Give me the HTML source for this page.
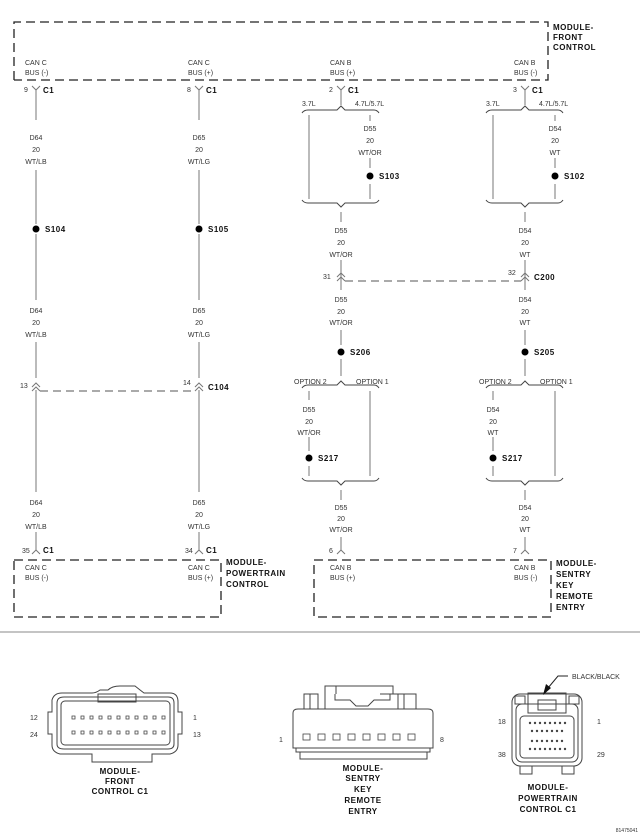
<!DOCTYPE html>
<html><head><meta charset="utf-8"><style>
html,body{margin:0;padding:0;background:#fff}
svg{display:block}
text{font-family:"Liberation Sans",sans-serif}
.t{font-size:7px;fill:#333;text-anchor:middle}
.l{font-size:7px;fill:#333}
.b{font-size:8px;font-weight:bold;fill:#111;letter-spacing:0.5px}
.w{stroke:#777;stroke-width:1;fill:none}
.d{stroke:#222;stroke-width:1.3;fill:none;stroke-dasharray:9,5}
.k{stroke:#444;stroke-width:1;fill:none}
</style></head><body>
<svg width="640" height="838" viewBox="0 0 640 838" xmlns="http://www.w3.org/2000/svg">
<!-- top box -->
<path class="d" d="M14,80 V22 H548 V80 H14"/>
<text class="b" x="553" y="30">MODULE-</text>
<text class="b" x="553" y="40">FRONT</text>
<text class="b" x="553" y="50">CONTROL</text>
<text class="l" x="25" y="65">CAN C</text><text class="l" x="25" y="75">BUS (-)</text>
<text class="l" x="188" y="65">CAN C</text><text class="l" x="188" y="75">BUS (+)</text>
<text class="l" x="330" y="65">CAN B</text><text class="l" x="330" y="75">BUS (+)</text>
<text class="l" x="514" y="65">CAN B</text><text class="l" x="514" y="75">BUS (-)</text>

<!-- column 1 x=36 -->
<path class="w" d="M32,86 L36,90 L40,86 M36,90 V120 M36,170 V224 M36,234 V300 M36,342 V378 M36,390 V492 M36,532 V550"/>
<text class="l" x="24" y="92">9</text><text class="b" x="43" y="93">C1</text>
<text class="t" x="36" y="140">D64</text><text class="t" x="36" y="152">20</text><text class="t" x="36" y="164">WT/LB</text>
<circle cx="36" cy="229" r="3.5" fill="#000"/><text class="b" x="45" y="232">S104</text>
<text class="t" x="36" y="313">D64</text><text class="t" x="36" y="325">20</text><text class="t" x="36" y="337">WT/LB</text>
<path class="w" d="M32,387 L36,383 L40,387 M32,391 L36,387 L40,391"/>
<text class="l" x="20" y="388">13</text>
<text class="t" x="36" y="505">D64</text><text class="t" x="36" y="517">20</text><text class="t" x="36" y="529">WT/LB</text>
<path class="w" d="M32,554 L36,550 L40,554"/>
<text class="l" x="22" y="553">35</text><text class="b" x="43" y="553">C1</text>

<!-- column 2 x=199 -->
<path class="w" d="M195,86 L199,90 L203,86 M199,90 V120 M199,170 V224 M199,234 V300 M199,342 V378 M199,390 V492 M199,532 V550"/>
<text class="l" x="187" y="92">8</text><text class="b" x="206" y="93">C1</text>
<text class="t" x="199" y="140">D65</text><text class="t" x="199" y="152">20</text><text class="t" x="199" y="164">WT/LG</text>
<circle cx="199" cy="229" r="3.5" fill="#000"/><text class="b" x="208" y="232">S105</text>
<text class="t" x="199" y="313">D65</text><text class="t" x="199" y="325">20</text><text class="t" x="199" y="337">WT/LG</text>
<path class="w" d="M195,387 L199,383 L203,387 M195,391 L199,387 L203,391"/>
<text class="l" x="183" y="385">14</text><text class="b" x="208" y="390">C104</text>
<text class="t" x="199" y="505">D65</text><text class="t" x="199" y="517">20</text><text class="t" x="199" y="529">WT/LG</text>
<path class="w" d="M195,554 L199,550 L203,554"/>
<text class="l" x="185" y="553">34</text><text class="b" x="206" y="553">C1</text>
<path class="d" style="stroke-width:1;stroke:#555;stroke-dasharray:8,5" d="M40,391 H195"/>

<!-- bottom-left box -->
<path class="d" d="M14,560 H221 V617 H14 Z"/>
<text class="l" x="25" y="570">CAN C</text><text class="l" x="25" y="580">BUS (-)</text>
<text class="l" x="188" y="570">CAN C</text><text class="l" x="188" y="580">BUS (+)</text>
<text class="b" x="226" y="565">MODULE-</text>
<text class="b" x="226" y="576">POWERTRAIN</text>
<text class="b" x="226" y="587">CONTROL</text>

<!-- column 3 x=341 -->
<g>
<path class="w" d="M337,86 L341,90 L345,86 M341,90 V105"/>
<text class="l" x="329" y="92">2</text><text class="b" x="348" y="93">C1</text>
<path class="k" d="M302,113 Q304,110 308,110 H337 L341,106 L345,110 H374 Q377,110 379,113"/>
<text class="l" x="302" y="106">3.7L</text><text class="l" x="355" y="106">4.7L/5.7L</text>
<path class="w" d="M309,115 V199 M370,115 V121 M370,158 V168 M370,184 V199"/>
<text class="t" x="370" y="131">D55</text><text class="t" x="370" y="143">20</text><text class="t" x="370" y="155">WT/OR</text>
<circle cx="370" cy="176" r="3.5" fill="#000"/><text class="b" x="379" y="179">S103</text>
<path class="k" d="M302,200 Q304,203 308,203 H337 L341,207 L345,203 H374 Q377,203 379,200"/>
<path class="w" d="M341,212 V222 M341,260 V290 M341,330 V345 M341,359 V376"/>
<text class="t" x="341" y="233">D55</text><text class="t" x="341" y="245">20</text><text class="t" x="341" y="257">WT/OR</text>
<path class="w" d="M337,277 L341,273 L345,277 M337,281 L341,277 L345,281"/>
<text class="l" x="323" y="279">31</text>
<text class="t" x="341" y="302">D55</text><text class="t" x="341" y="314">20</text><text class="t" x="341" y="325">WT/OR</text>
<circle cx="341" cy="352" r="3.5" fill="#000"/><text class="b" x="350" y="355">S206</text>
<path class="k" d="M302,388 Q304,385 308,385 H337 L341,381 L345,385 H374 Q377,385 379,388"/>
<text class="l" x="294" y="384">OPTION 2</text><text class="l" x="356" y="384">OPTION 1</text>
<path class="w" d="M309,391 V400 M309,437 V451 M309,466 V476 M370,391 V476"/>
<text class="t" x="309" y="412">D55</text><text class="t" x="309" y="424">20</text><text class="t" x="309" y="435">WT/OR</text>
<circle cx="309" cy="458" r="3.5" fill="#000"/><text class="b" x="318" y="461">S217</text>
<path class="k" d="M302,478 Q304,481 308,481 H337 L341,485 L345,481 H374 Q377,481 379,478"/>
<path class="w" d="M341,490 V500 M341,537 V550"/>
<text class="t" x="341" y="510">D55</text><text class="t" x="341" y="521">20</text><text class="t" x="341" y="532">WT/OR</text>
<path class="w" d="M337,554 L341,550 L345,554"/>
<text class="l" x="329" y="553">6</text>
</g>

<!-- column 4 x=525 -->
<g>
<path class="w" d="M521,86 L525,90 L529,86 M525,90 V105"/>
<text class="l" x="513" y="92">3</text><text class="b" x="532" y="93">C1</text>
<path class="k" d="M486,113 Q488,110 492,110 H521 L525,106 L529,110 H558 Q561,110 563,113"/>
<text class="l" x="486" y="106">3.7L</text><text class="l" x="539" y="106">4.7L/5.7L</text>
<path class="w" d="M493,115 V199 M555,115 V121 M555,158 V168 M555,184 V199"/>
<text class="t" x="555" y="131">D54</text><text class="t" x="555" y="143">20</text><text class="t" x="555" y="155">WT</text>
<circle cx="555" cy="176" r="3.5" fill="#000"/><text class="b" x="564" y="179">S102</text>
<path class="k" d="M486,200 Q488,203 492,203 H521 L525,207 L529,203 H558 Q561,203 563,200"/>
<path class="w" d="M525,212 V222 M525,260 V290 M525,330 V345 M525,359 V376"/>
<text class="t" x="525" y="233">D54</text><text class="t" x="525" y="245">20</text><text class="t" x="525" y="257">WT</text>
<path class="w" d="M521,277 L525,273 L529,277 M521,281 L525,277 L529,281"/>
<text class="l" x="508" y="275">32</text><text class="b" x="534" y="280">C200</text>
<text class="t" x="525" y="302">D54</text><text class="t" x="525" y="314">20</text><text class="t" x="525" y="325">WT</text>
<circle cx="525" cy="352" r="3.5" fill="#000"/><text class="b" x="534" y="355">S205</text>
<path class="k" d="M486,388 Q488,385 492,385 H521 L525,381 L529,385 H558 Q561,385 563,388"/>
<text class="l" x="479" y="384">OPTION 2</text><text class="l" x="540" y="384">OPTION 1</text>
<path class="w" d="M493,391 V400 M493,437 V451 M493,466 V476 M555,391 V476"/>
<text class="t" x="493" y="412">D54</text><text class="t" x="493" y="424">20</text><text class="t" x="493" y="435">WT</text>
<circle cx="493" cy="458" r="3.5" fill="#000"/><text class="b" x="502" y="461">S217</text>
<path class="k" d="M486,478 Q488,481 492,481 H521 L525,485 L529,481 H558 Q561,481 563,478"/>
<path class="w" d="M525,490 V500 M525,537 V550"/>
<text class="t" x="525" y="510">D54</text><text class="t" x="525" y="521">20</text><text class="t" x="525" y="532">WT</text>
<path class="w" d="M521,554 L525,550 L529,554"/>
<text class="l" x="513" y="553">7</text>
</g>
<path class="d" style="stroke-width:1;stroke:#555;stroke-dasharray:8,5" d="M345,281 H521"/>

<!-- bottom-right box -->
<path class="d" d="M314,560 H551 V617 H314 Z"/>
<text class="l" x="330" y="570">CAN B</text><text class="l" x="330" y="580">BUS (+)</text>
<text class="l" x="514" y="570">CAN B</text><text class="l" x="514" y="580">BUS (-)</text>
<text class="b" x="556" y="566">MODULE-</text>
<text class="b" x="556" y="577">SENTRY</text>
<text class="b" x="556" y="588">KEY</text>
<text class="b" x="556" y="599">REMOTE</text>
<text class="b" x="556" y="610">ENTRY</text>

<line x1="0" y1="632" x2="640" y2="632" stroke="#888" stroke-width="1"/>

<!-- connector 1: front control -->
<g class="k">
<path d="M52,700 Q54,693 62,693 H92 Q96,693 100,690 L108,690 Q112,686 120,686 H135 Q140,690 144,693 H170 Q178,693 178,702 V712 H182 V734 H178 V745 Q178,752 170,754 H152 V762 H92 V754 H60 Q52,752 52,745 V734 H48 V712 H52 Z"/>
<path d="M57,703 Q57,697 64,697 H168 Q174,697 174,703 V744 Q174,749 168,749 H64 Q57,749 57,744 Z"/>
<rect x="61" y="701" width="109" height="44" rx="4"/>
<rect x="98" y="694" width="38" height="8"/>
</g>
<g fill="none" stroke="#444" stroke-width="0.8">
<path d="M72,716 h3v3h-3z M81,716 h3v3h-3z M90,716 h3v3h-3z M99,716 h3v3h-3z M108,716 h3v3h-3z M117,716 h3v3h-3z M126,716 h3v3h-3z M135,716 h3v3h-3z M144,716 h3v3h-3z M153,716 h3v3h-3z M162,716 h3v3h-3z"/>
<path d="M72,731 h3v3h-3z M81,731 h3v3h-3z M90,731 h3v3h-3z M99,731 h3v3h-3z M108,731 h3v3h-3z M117,731 h3v3h-3z M126,731 h3v3h-3z M135,731 h3v3h-3z M144,731 h3v3h-3z M153,731 h3v3h-3z M162,731 h3v3h-3z"/>
</g>
<text class="l" x="30" y="720">12</text><text class="l" x="30" y="737">24</text>
<text class="l" x="193" y="720">1</text><text class="l" x="193" y="737">13</text>
<text class="b" x="120" y="774" text-anchor="middle">MODULE-</text>
<text class="b" x="120" y="784" text-anchor="middle">FRONT</text>
<text class="b" x="120" y="794" text-anchor="middle">CONTROL C1</text>

<!-- connector 2: sentry -->
<g class="k">
<path d="M293,713 Q293,709 298,709 H428 Q433,709 433,713 V748 H293 Z"/>
<path d="M296,748 V752 H430 V748 M300,752 V759 H427 V752"/>
<path d="M304,709 V694 H318 V709 M310,694 V709 M325,709 V686 H336 V694 M336,686 H393 V694 M393,686 H393 M380,694 H404 V709 M398,694 V709 M404,709 V694 H416 V709 M335,694 V700 L350,700 L356,706 H368 L374,700 H390 V694"/>
</g>
<g fill="none" stroke="#444" stroke-width="0.8">
<rect x="303" y="734" width="7" height="6"/><rect x="318" y="734" width="7" height="6"/><rect x="333" y="734" width="7" height="6"/><rect x="348" y="734" width="7" height="6"/><rect x="363" y="734" width="7" height="6"/><rect x="378" y="734" width="7" height="6"/><rect x="393" y="734" width="7" height="6"/><rect x="408" y="734" width="7" height="6"/>
</g>
<text class="l" x="279" y="742">1</text><text class="l" x="440" y="742">8</text>
<text class="b" x="363" y="771" text-anchor="middle">MODULE-</text>
<text class="b" x="363" y="781" text-anchor="middle">SENTRY</text>
<text class="b" x="363" y="792" text-anchor="middle">KEY</text>
<text class="b" x="363" y="803" text-anchor="middle">REMOTE</text>
<text class="b" x="363" y="814" text-anchor="middle">ENTRY</text>

<!-- connector 3: powertrain -->
<g class="k">
<rect x="512" y="694" width="70" height="72" rx="8"/>
<rect x="516" y="704" width="62" height="58" rx="6"/>
<rect x="520" y="716" width="54" height="42" rx="4"/>
<rect x="528" y="693" width="38" height="20"/>
<rect x="538" y="700" width="18" height="10"/>
<rect x="515" y="696" width="10" height="8"/><rect x="569" y="696" width="10" height="8"/>
<rect x="520" y="766" width="12" height="8"/><rect x="562" y="766" width="12" height="8"/>
</g>
<g fill="#444">
<circle cx="530" cy="723" r="1.2"/><circle cx="535" cy="723" r="1.2"/><circle cx="540" cy="723" r="1.2"/><circle cx="545" cy="723" r="1.2"/><circle cx="550" cy="723" r="1.2"/><circle cx="555" cy="723" r="1.2"/><circle cx="560" cy="723" r="1.2"/><circle cx="565" cy="723" r="1.2"/>
<circle cx="532" cy="731" r="1.2"/><circle cx="537" cy="731" r="1.2"/><circle cx="542" cy="731" r="1.2"/><circle cx="547" cy="731" r="1.2"/><circle cx="552" cy="731" r="1.2"/><circle cx="557" cy="731" r="1.2"/><circle cx="562" cy="731" r="1.2"/>
<circle cx="532" cy="741" r="1.2"/><circle cx="537" cy="741" r="1.2"/><circle cx="542" cy="741" r="1.2"/><circle cx="547" cy="741" r="1.2"/><circle cx="552" cy="741" r="1.2"/><circle cx="557" cy="741" r="1.2"/><circle cx="562" cy="741" r="1.2"/>
<circle cx="530" cy="749" r="1.2"/><circle cx="535" cy="749" r="1.2"/><circle cx="540" cy="749" r="1.2"/><circle cx="545" cy="749" r="1.2"/><circle cx="550" cy="749" r="1.2"/><circle cx="555" cy="749" r="1.2"/><circle cx="560" cy="749" r="1.2"/><circle cx="565" cy="749" r="1.2"/>
</g>
<path d="M568,676 H558 L548,688" stroke="#222" stroke-width="1" fill="none"/>
<path d="M543,695 L546,684 L551,688 Z" fill="#111"/>
<text class="l" x="572" y="679">BLACK/BLACK</text>
<text class="l" x="498" y="724">18</text><text class="l" x="597" y="724">1</text>
<text class="l" x="498" y="757">38</text><text class="l" x="597" y="757">29</text>
<text class="b" x="548" y="790" text-anchor="middle">MODULE-</text>
<text class="b" x="548" y="801" text-anchor="middle">POWERTRAIN</text>
<text class="b" x="548" y="812" text-anchor="middle">CONTROL C1</text>
<text x="638" y="832" style="font-size:5px;fill:#333;text-anchor:end">81475041</text>
</svg>
</body></html>
